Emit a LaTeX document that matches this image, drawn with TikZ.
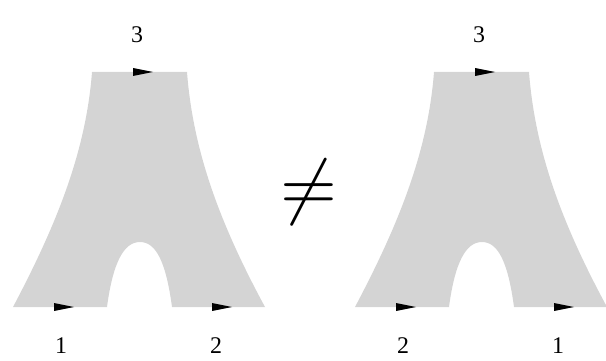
\documentclass[tikz,border=0pt]{standalone}
\usepackage{fontspec}
\setmainfont{Liberation Serif}
\usepackage{tikz}
\usetikzlibrary{positioning,calc}
\definecolor{cpants}{HTML}{D4D4D4}

\begin{document}
\begin{tikzpicture}[
  x=0.025cm, y=-0.025cm,
  pants/.style={fill=cpants, draw=none},
  flowtip/.pic={\fill[black] (-10,-4) -- (10,0) -- (-10,4) -- cycle;},
  bnum/.style={font=\fontsize{17}{17}\selectfont, inner sep=0pt},
  relsign/.style={scale=5.2, inner sep=0pt},
]
  \useasboundingbox (0,0) rectangle (606,361);
  % --- two pairs of pants, the legs labelled in opposite order ---
  \foreach \dx/\la/\lb in {0/1/2, 342/2/1} {
    \begin{scope}[xshift=\dx*0.025cm]
      \path[pants] (92,72) -- (187,72)
        .. controls (193,150) and (219,222) .. (265,307) -- (172,307)
        .. controls (166,262) and (156,242) .. (140,242)
        .. controls (124,242) and (113,262) .. (107,307) -- (13,307)
        .. controls (58,222) and (86,150) .. (92,72) -- cycle;
      % oriented boundary circles
      \pic at (143,72) {flowtip};
      \pic at (64,307) {flowtip};
      \pic at (222,307) {flowtip};
      % circle labels
      \node[bnum] (top\dx) at (137,35) {3};
      \node[bnum] (left\dx) at (61,346) {\la};
      \node[bnum] (right\dx) at (216,346) {\lb};
    \end{scope}
  }
  \node[relsign] (neq) at (309,192) {$\neq$};
\end{tikzpicture}
\end{document}
